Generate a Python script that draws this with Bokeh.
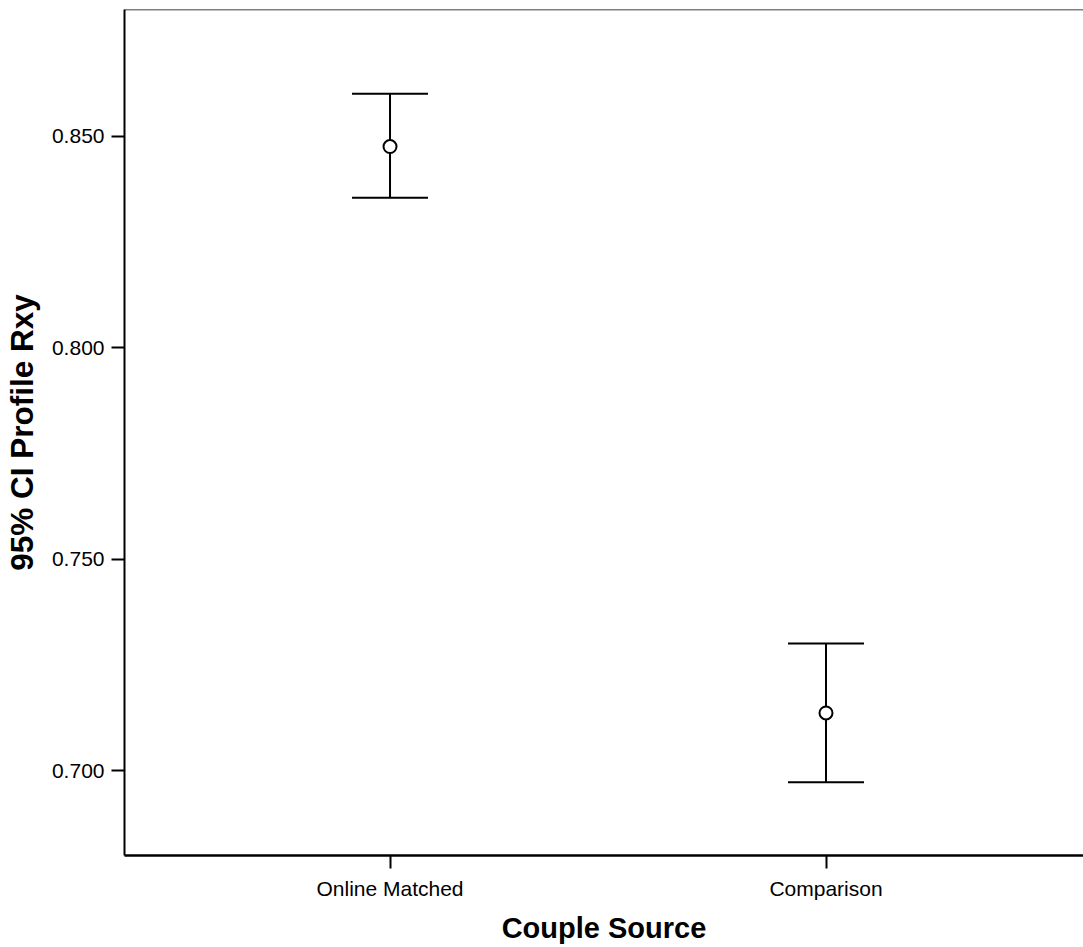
from bokeh.plotting import figure
from bokeh.models import Whisker, TeeHead, ColumnDataSource, FixedTicker, Span, Range1d, NumeralTickFormatter
from bokeh.embed import file_html
from bokeh.resources import INLINE

categories = ["Online Matched", "Comparison"]
means = [0.8476, 0.7137]
upper = [0.8601, 0.7301]
lower = [0.8355, 0.6973]
y_ticks = [0.700, 0.750, 0.800, 0.850]

xpos = list(range(len(categories)))
src = ColumnDataSource(dict(x=xpos, m=means, up=upper, lo=lower))

FONT = "Liberation Sans"

p = figure(width=1083, height=947, output_backend="svg", toolbar_location=None,
           x_range=Range1d(-0.609, 1.5906), y_range=Range1d(0.680, 0.880),
           min_border_left=124, min_border_right=0, min_border_top=9, min_border_bottom=92)
p.outline_line_color = None
p.xgrid.visible = False
p.ygrid.visible = False
p.background_fill_color = "white"
p.border_fill_color = "white"

w = Whisker(source=src, base="x", upper="up", lower="lo", dimension="height",
            line_color="black", line_width=2,
            upper_head=TeeHead(size=76, line_color="black", line_width=2),
            lower_head=TeeHead(size=76, line_color="black", line_width=2))
p.add_layout(w)
p.scatter("x", "m", source=src, marker="circle", size=13, fill_color="white",
          line_color="black", line_width=2)

p.add_layout(Span(location=0.880, dimension="width", line_color="black", line_width=1.5))

# X axis
xa = p.xaxis[0]
xa.ticker = FixedTicker(ticks=xpos)
xa.major_label_overrides = {i: c for i, c in zip(xpos, categories)}
xa.minor_tick_line_color = None
xa.major_tick_out = 13
xa.major_tick_in = 0
xa.major_tick_line_width = 2
xa.axis_line_width = 2.5
xa.major_label_standoff = 8
xa.major_label_text_font = FONT
xa.major_label_text_font_size = "21px"
xa.major_label_text_color = "black"
xa.axis_label = "Couple Source"
xa.axis_label_text_font = FONT
xa.axis_label_text_font_size = "29px"
xa.axis_label_text_font_style = "bold"
xa.axis_label_text_color = "black"
xa.axis_label_standoff = 9

# Y axis
ya = p.yaxis[0]
ya.ticker = FixedTicker(ticks=y_ticks)
ya.formatter = NumeralTickFormatter(format="0.000")
ya.minor_tick_line_color = None
ya.major_tick_out = 13
ya.major_tick_in = 0
ya.major_tick_line_width = 2
ya.axis_line_width = 2
ya.major_label_standoff = 7
ya.major_label_text_font = FONT
ya.major_label_text_font_size = "21px"
ya.major_label_text_color = "black"
ya.axis_label = "95% CI Profile Rxy"
ya.axis_label_text_font = FONT
ya.axis_label_text_font_size = "31.5px"
ya.axis_label_text_font_style = "bold"
ya.axis_label_text_color = "black"
ya.axis_label_standoff = 9

open("out.html", "w").write(file_html(p, INLINE))
